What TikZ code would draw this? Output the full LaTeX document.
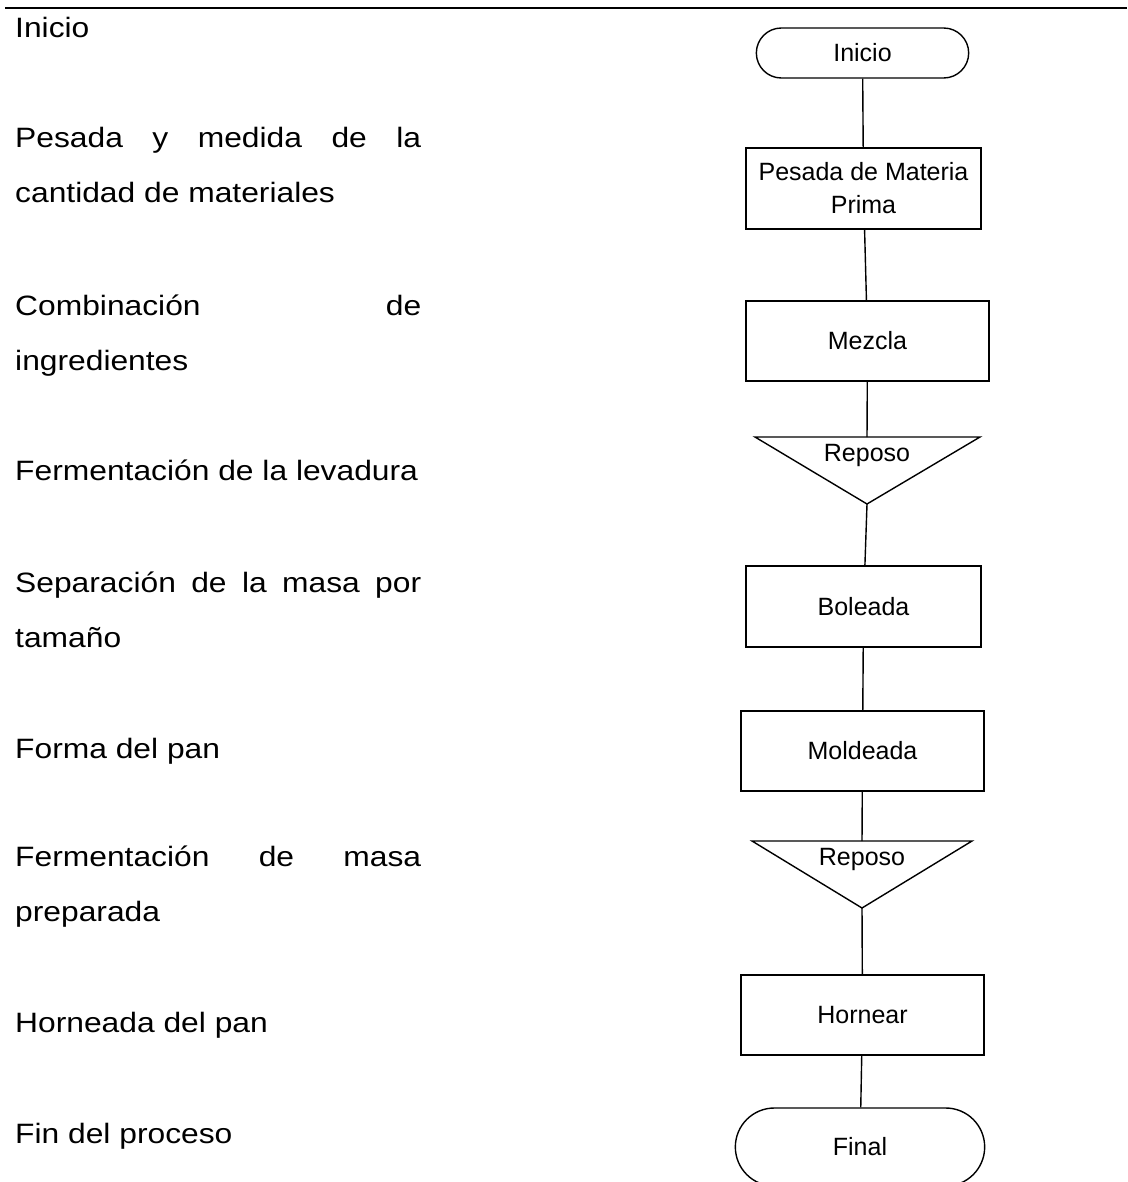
\documentclass[tikz,border=0pt]{standalone}
\usepackage{fontspec}
\setmainfont{Liberation Sans}
\newfontfamily\anchafont[FakeStretch=1.135]{Liberation Sans}
\usetikzlibrary{shapes,positioning}
\tikzstyle{paso} = [anchor=base west, inner sep=0pt,
    font=\anchafont\fontsize{28}{55}\selectfont]
\tikzstyle{caja} = [draw, rectangle, line width=1.6pt, minimum width=243pt,
    minimum height=80pt, align=center, font=\fontsize{25}{33}\selectfont]
\tikzstyle{term} = [draw, rounded rectangle, line width=1.4pt,
    font=\fontsize{25}{33}\selectfont]
\tikzstyle{etiq} = [inner sep=0pt, font=\fontsize{25}{33}\selectfont]
\tikzstyle{linea} = [line width=1.4pt]
\newcommand{\justa}[1]{\makebox[406pt][s]{#1}}

\begin{document}
\begin{tikzpicture}[x=1pt, y=-1pt, auto]
  \useasboundingbox (0,0) rectangle (1127,1182);
  \coordinate (izq) at (5,8);
  \coordinate (der) at (1127,8);
  \draw[line width=2pt] (izq) -- (der);
  % Place nodes: descripcion
  \node [paso] (d1) at (15,38) {Inicio};
  \node [paso] (d2) at (15,148) {\justa{Pesada y medida de la}};
  \node [paso] (d2b) at (15,203) {cantidad de materiales};
  \node [paso] (d3) at (15,315) {\justa{Combinación de}};
  \node [paso] (d3b) at (15,370) {ingredientes};
  \node [paso] (d4) at (15,480) {Fermentación de la levadura};
  \node [paso] (d5) at (15,592) {\justa{Separación de la masa por}};
  \node [paso] (d5b) at (15,647) {tamaño};
  \node [paso] (d6) at (15,758) {Forma del pan};
  \node [paso] (d7) at (15,866) {\justa{Fermentación de masa}};
  \node [paso] (d7b) at (15,921) {preparada};
  \node [paso] (d8) at (15,1032) {Horneada del pan};
  \node [paso] (d9) at (15,1143) {Fin del proceso};
  % Place nodes: diagrama
  \node [term, minimum width=219pt, minimum height=50pt] (inicio)
    at (862.5,53) {Inicio};
  \node [caja, minimum width=235pt, minimum height=81pt] (pesada)
    at (863.5,188.5) {Pesada de Materia\\Prima};
  \node [caja] (mezcla) at (867.5,341) {Mezcla};
  \node [etiq] (rep1) at (867,455) {Reposo};
  \coordinate (rep1a) at (755,437);
  \coordinate (rep1b) at (980,437);
  \coordinate (rep1c) at (867,504);
  \coordinate (rep1n) at (867,437);
  \node [caja, minimum width=235pt, minimum height=81pt] (boleada)
    at (863.5,606.5) {Boleada};
  \node [caja] (moldeada) at (862.5,751) {Moldeada};
  \node [etiq] (rep2) at (862,859) {Reposo};
  \coordinate (rep2a) at (752,841);
  \coordinate (rep2b) at (972,841);
  \coordinate (rep2c) at (862,908);
  \coordinate (rep2n) at (862,841);
  \node [caja] (hornear) at (862.5,1015) {Hornear};
  \node [term, minimum width=256pt, minimum height=78pt] (final)
    at (860,1147) {Final};
  % Reposo
  \draw[linea] (rep1a) -- (rep1b) -- (rep1c) -- cycle;
  \draw[linea] (rep2a) -- (rep2b) -- (rep2c) -- cycle;
  % Lineas
  \draw[linea] (inicio) -- (pesada);
  \draw[linea] (pesada) -- (mezcla);
  \draw[linea] (mezcla) -- (rep1n);
  \draw[linea] (rep1c) -- (boleada);
  \draw[linea] (boleada) -- (moldeada);
  \draw[linea] (moldeada) -- (rep2n);
  \draw[linea] (rep2c) -- (hornear);
  \draw[linea] (hornear) -- (final);
\end{tikzpicture}
\end{document}
